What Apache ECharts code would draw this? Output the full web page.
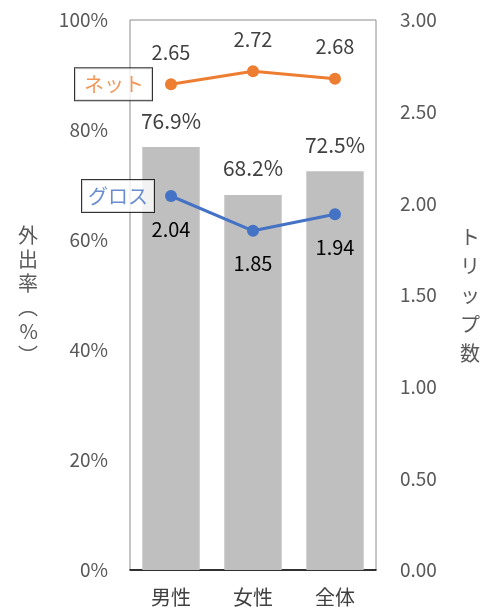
<!DOCTYPE html>
<html>
<head>
<meta charset="utf-8">
<script src="https://cdn.jsdelivr.net/npm/echarts@6/dist/echarts.min.js"></script>
<style>
  html, body { margin: 0; padding: 0; background: #fff; }
  #main { width: 487px; height: 616px; }
</style>
</head>
<body>
<div id="main"></div>
<script>
const categories = ['男性', '女性', '全体'];
const outingRate = [76.9, 68.2, 72.5];
const netTrips = [2.65, 2.72, 2.68];
const grossTrips = [2.04, 1.85, 1.94];
const leftTicks = [0, 20, 40, 60, 80, 100];
const rightTicks = [0, 0.5, 1, 1.5, 2, 2.5, 3];

const font = '"Noto Sans CJK JP", "Noto Sans", sans-serif';
const chart = echarts.init(document.getElementById('main'));

chart.setOption({
  animation: false,
  textStyle: { fontFamily: font },
  grid: {
    left: 130, right: 111, top: 20, bottom: 46,
    show: true, borderColor: '#8c8c8c', borderWidth: 1, backgroundColor: 'transparent'
  },
  xAxis: {
    type: 'category',
    data: categories,
    axisLine: { lineStyle: { color: '#000', width: 1.5 } },
    axisTick: { show: false },
    axisLabel: { color: '#404040', fontSize: 20, margin: 17, fontFamily: font }
  },
  yAxis: [{
    type: 'value',
    min: leftTicks[0], max: leftTicks[leftTicks.length - 1], interval: 20,
    axisLine: { show: false },
    axisTick: { show: false },
    splitLine: { show: false },
    axisLabel: { color: '#595959', fontSize: 19, margin: 22, formatter: '{value}%', fontFamily: font },
    name: '外\n出\n率\n︵\n%\n︶',
    nameLocation: 'middle',
    nameRotate: 0,
    nameGap: 92,
    nameTextStyle: { color: '#595959', fontSize: 20, lineHeight: 24, fontFamily: font }
  }, {
    type: 'value',
    min: rightTicks[0], max: rightTicks[rightTicks.length - 1], interval: 0.5,
    axisLine: { show: false },
    axisTick: { show: false },
    splitLine: { show: false },
    axisLabel: { color: '#595959', fontSize: 19, margin: 24, formatter: v => v.toFixed(2), fontFamily: font },
    name: 'ト\nリ\nッ\nプ\n数',
    nameLocation: 'middle',
    nameRotate: 0,
    nameGap: 84,
    nameTextStyle: { color: '#595959', fontSize: 20, lineHeight: 29, fontFamily: font }
  }],
  series: [{
    type: 'bar',
    data: outingRate,
    barWidth: '70%',
    itemStyle: { color: '#bfbfbf' },
    label: {
      show: true, position: 'top', distance: 16,
      formatter: p => p.value.toFixed(1) + '%',
      color: '#404040', fontSize: 21, fontFamily: font
    }
  }, {
    type: 'line',
    yAxisIndex: 1,
    data: netTrips,
    symbol: 'circle', symbolSize: 12,
    lineStyle: { color: '#ed7d31', width: 3 },
    itemStyle: { color: '#ed7d31' },
    label: {
      show: true, position: 'top', distance: 16,
      formatter: p => p.value.toFixed(2),
      color: '#404040', fontSize: 20, fontFamily: font
    }
  }, {
    type: 'line',
    yAxisIndex: 1,
    data: grossTrips,
    symbol: 'circle', symbolSize: 12,
    lineStyle: { color: '#4472c4', width: 3 },
    itemStyle: { color: '#4472c4' },
    label: {
      show: true, position: 'bottom', distance: 17,
      formatter: p => p.value.toFixed(2),
      color: '#000', fontSize: 20, fontFamily: font
    }
  }, {
    type: 'scatter',
    yAxisIndex: 1,
    data: [[0, netTrips[0]]],
    symbolSize: 0,
    silent: true,
    label: {
      show: true, position: 'left', distance: 19,
      formatter: 'ネット',
      color: '#ed7d31', fontSize: 20, fontFamily: font,
      backgroundColor: '#fff', borderColor: '#000', borderWidth: 1,
      padding: [6, 8, 6, 9]
    }
  }, {
    type: 'scatter',
    yAxisIndex: 1,
    data: [[0, grossTrips[0]]],
    symbolSize: 0,
    silent: true,
    label: {
      show: true, position: 'left', distance: 17,
      formatter: 'グロス',
      color: '#4472c4', fontSize: 20, fontFamily: font,
      backgroundColor: '#fff', borderColor: '#000', borderWidth: 1,
      padding: [6, 6, 6, 6]
    }
  }]
});
</script>
</body>
</html>
